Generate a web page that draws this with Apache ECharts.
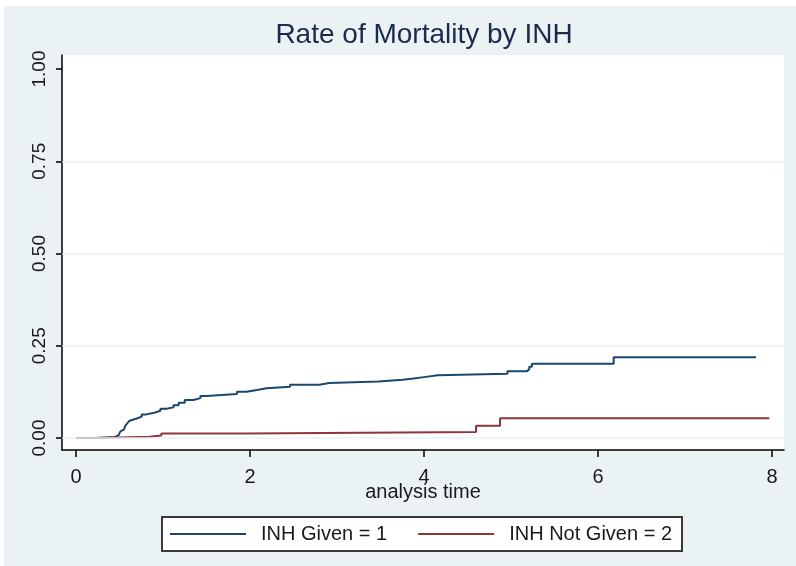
<!DOCTYPE html>
<html>
<head>
<meta charset="utf-8">
<script src="https://cdn.jsdelivr.net/npm/echarts@6/dist/echarts.min.js"></script>
<style>
html,body{margin:0;padding:0;background:#ffffff;}
#chart{width:796px;height:566px;}
</style>
</head>
<body>
<div id="chart"></div>
<script>
// ---- data ----
var titleText = 'Rate of Mortality by INH';
var xAxisName = 'analysis time';
var seriesNames = ['INH Given = 1', 'INH Not Given = 2'];
var xTicks = [0, 2, 4, 6, 8];
var yTicks = [0, 0.25, 0.5, 0.75, 1];
var yGrid = [0, 0.25, 0.5, 0.75];

var givenTime = [0, 0.22, 0.45, 0.47, 0.49, 0.51, 0.53, 0.55, 0.57, 0.59, 0.61, 0.63, 0.66, 0.70, 0.755, 0.81, 0.91, 0.97, 1.04, 1.12, 1.18, 1.25, 1.35, 1.43, 1.5, 1.85, 1.96, 2.08, 2.19, 2.46, 2.80, 2.91, 3.475, 3.755, 3.877, 4.0, 4.157, 4.958, 5.18, 5.21, 5.24, 6.18, 7.816];
var givenRate = [0, 0.003, 0.0035, 0.008, 0.013, 0.018, 0.023, 0.028, 0.034, 0.040, 0.046, 0.050, 0.053, 0.058, 0.064, 0.069, 0.074, 0.0795, 0.083, 0.0886, 0.0957, 0.103, 0.108, 0.114, 0.119, 0.1255, 0.130, 0.1346, 0.139, 0.1445, 0.149, 0.153, 0.158, 0.161, 0.165, 0.170, 0.1743, 0.1806, 0.186, 0.193, 0.201, 0.2186, 0.2186];

var notGivenTime = [0, 0.226, 0.85, 0.98, 1.95, 4.598, 4.874, 7.97];
var notGivenRate = [0, 0.0036, 0.0065, 0.012, 0.0165, 0.0334, 0.0533, 0.0533];

function pairs(xs, ys) { return xs.map(function (x, i) { return [x, ys[i]]; }); }

var FONT = '"Liberation Sans", Arial, sans-serif';
var chart = echarts.init(document.getElementById('chart'), null, {renderer: 'canvas'});

var option = {
  animation: false,
  backgroundColor: '#ffffff',
  graphic: [
    {type: 'rect', z: -10, shape: {x: 4, y: 6, width: 792, height: 560}, style: {fill: '#EAF2F3'}},
    {type: 'text', z: 10, x: 424, y: 21, style: {text: titleText, font: '28px ' + FONT, fill: '#1c2a4e', textAlign: 'center', textVerticalAlign: 'top'}},
    {type: 'text', z: 10, x: 423, y: 482, style: {text: xAxisName, font: '20px ' + FONT, fill: '#1a1a1a', textAlign: 'center', textVerticalAlign: 'top'}}
  ],
  legend: {
    data: seriesNames,
    left: 162,
    top: 517,
    orient: 'horizontal',
    backgroundColor: '#ffffff',
    borderColor: '#3a3a3a',
    borderWidth: 2,
    padding: [7, 10, 7, 8],
    itemGap: 31,
    itemWidth: 86,
    itemHeight: 2,
    icon: 'path://M0,0H76V2H0ZM86,0L86,2',
    textStyle: {fontFamily: FONT, fontSize: 20, color: '#1a1a1a'}
  },
  grid: {
    left: 62, top: 55, width: 722, height: 395,
    show: true, backgroundColor: '#ffffff', borderWidth: 0
  },
  xAxis: {
    type: 'value',
    min: -0.161, max: 8.138,
    axisLine: {show: true, onZero: false, lineStyle: {color: '#000000', width: 1.5}},
    axisTick: {show: true, length: 7, customValues: xTicks, lineStyle: {color: '#000000', width: 1.5}},
    axisLabel: {customValues: xTicks, margin: 17, fontFamily: FONT, fontSize: 20, color: '#1a1a1a'},
    splitLine: {show: false}
  },
  yAxis: {
    type: 'value',
    min: -0.0325, max: 1.038,
    axisLine: {show: true, onZero: false, lineStyle: {color: '#000000', width: 1.5}},
    axisTick: {show: true, length: 6, customValues: yTicks, lineStyle: {color: '#000000', width: 1.5}},
    axisLabel: {customValues: yTicks, rotate: 90, margin: 13, fontFamily: FONT, fontSize: 19, color: '#1a1a1a',
      formatter: function (v) { return v.toFixed(2); }},
    splitLine: {show: false}
  },
  series: [
    {
      name: 'grid', type: 'line', data: [], z: 1, silent: true,
      markLine: {
        silent: true, symbol: ['none', 'none'], label: {show: false},
        lineStyle: {color: '#EAF2F3', width: 1.5, type: 'solid'},
        data: yGrid.map(function (v) { return {yAxis: v}; })
      }
    },
    {
      name: seriesNames[0], type: 'line', step: 'end', showSymbol: false, symbol: 'none', z: 3,
      lineStyle: {color: '#1A476F', width: 2}, itemStyle: {color: '#1A476F'},
      data: pairs(givenTime, givenRate)
    },
    {
      name: seriesNames[1], type: 'line', step: 'end', showSymbol: false, symbol: 'none', z: 4,
      lineStyle: {color: '#90353B', width: 2}, itemStyle: {color: '#90353B'},
      data: pairs(notGivenTime, notGivenRate)
    }
  ]
};
chart.setOption(option);
</script>
</body>
</html>
